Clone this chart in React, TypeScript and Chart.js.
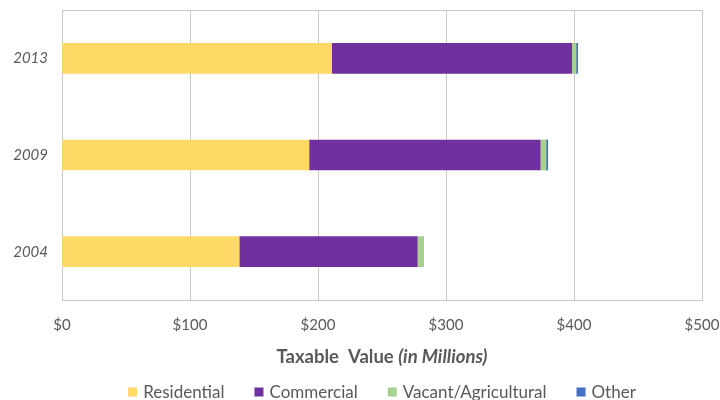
import React, { useEffect, useRef } from "react";
import { Chart, registerables } from "chart.js";

Chart.register(...registerables);

const years = ["2013", "2009", "2004"];
const residential = [210.7, 193.0, 138.5];
const commercial = [187.5, 180.5, 139.0];
const vacantAgricultural = [3.4, 4.7, 5.0];
const other = [1.3, 1.3, 0];
const seriesNames = ["Residential", "Commercial", "Vacant/Agricultural", "Other"];
const seriesColors = ["#FFD966", "#7030A0", "#A9D18E", "#4472C4"];
const axisTitleMain = "Taxable  Value ";
const axisTitleItalic = "(in Millions)";

const FONT = "Lato, 'Noto Sans', sans-serif";
const TEXT = "#595959";
const GRID = "#c8c8c8";

const extras = {
  id: "excelExtras",
  beforeDatasetsDraw(chart: any) {
    const { ctx, chartArea } = chart;
    ctx.save();
    ctx.strokeStyle = GRID;
    ctx.lineWidth = 1;
    ctx.strokeRect(
      Math.round(chartArea.left) + 0.5,
      Math.round(chartArea.top) + 0.5,
      Math.round(chartArea.right - chartArea.left),
      Math.round(chartArea.bottom - chartArea.top)
    );
    ctx.restore();
  },
  afterDraw(chart: any) {
    const { ctx, chartArea } = chart;
    const cx = (chartArea.left + chartArea.right) / 2;
    ctx.save();
    ctx.fillStyle = TEXT;
    ctx.textBaseline = "middle";
    ctx.textAlign = "left";
    const f1 = `bold 18.5px ${FONT}`;
    const f2 = `italic bold 18.5px ${FONT}`;
    ctx.font = f1;
    const w1 = ctx.measureText(axisTitleMain).width;
    ctx.font = f2;
    const w2 = ctx.measureText(axisTitleItalic).width;
    let x = cx - (w1 + w2) / 2;
    const ty = chartArea.bottom + 57;
    ctx.font = f1;
    ctx.fillText(axisTitleMain, x, ty);
    ctx.font = f2;
    ctx.fillText(axisTitleItalic, x + w1, ty);
    // legend
    ctx.font = `17px ${FONT}`;
    const box = 9;
    const gapBox = 6;
    const gapItem = 30;
    const datasets = chart.data.datasets;
    const widths = datasets.map((d: any) => box + gapBox + ctx.measureText(d.label).width);
    const total = widths.reduce((a: number, b: number) => a + b, 0) + gapItem * (datasets.length - 1);
    x = cx - total / 2;
    const ly = chartArea.bottom + 92;
    datasets.forEach((d: any, i: number) => {
      ctx.fillStyle = d.backgroundColor;
      ctx.fillRect(x, ly - box / 2, box, box);
      ctx.fillStyle = TEXT;
      ctx.fillText(d.label, x + box + gapBox, ly + 1);
      x += widths[i] + gapItem;
    });
    ctx.restore();
  },
};

export default function App() {
  const ref = useRef<HTMLCanvasElement | null>(null);
  useEffect(() => {
    if (!ref.current) return;
    const values = [residential, commercial, vacantAgricultural, other];
    const chart = new Chart(ref.current, {
      type: "bar",
      data: {
        labels: years,
        datasets: values.map((v, i) => ({
          label: seriesNames[i],
          data: v,
          backgroundColor: seriesColors[i],
          borderWidth: 0,
          barThickness: 30,
        })),
      },
      options: {
        indexAxis: "y",
        responsive: true,
        maintainAspectRatio: false,
        animation: false,
        layout: { padding: { top: 10, right: 18, bottom: 0, left: 0 } },
        plugins: {
          legend: { display: false },
          tooltip: { enabled: false },
          title: { display: false },
        },
        scales: {
          x: {
            stacked: true,
            min: 0,
            max: 500,
            ticks: {
              stepSize: 100,
              padding: 0,
              color: TEXT,
              font: { family: FONT, size: 15 },
              callback: (v: any) => "$" + v,
            },
            grid: { color: GRID, lineWidth: 1, drawTicks: true, tickLength: 16, tickColor: "rgba(0,0,0,0)" },
            border: { display: false },
            afterFit: (s: any) => {
              s.height = 100;
            },
          },
          y: {
            stacked: true,
            ticks: {
              padding: 0,
              color: TEXT,
              font: { family: FONT, size: 15, style: "italic" },
            },
            grid: { display: true, color: "rgba(0,0,0,0)", drawTicks: true, tickLength: 14, tickColor: "rgba(0,0,0,0)" },
            border: { display: false },
            afterFit: (s: any) => {
              s.width = 62;
            },
          },
        },
      },
      plugins: [extras],
    });
    return () => chart.destroy();
  }, []);
  return (
    <div style={{ position: "absolute", left: 0, top: 0, width: 720, height: 400 }}>
      <canvas ref={ref} />
    </div>
  );
}
